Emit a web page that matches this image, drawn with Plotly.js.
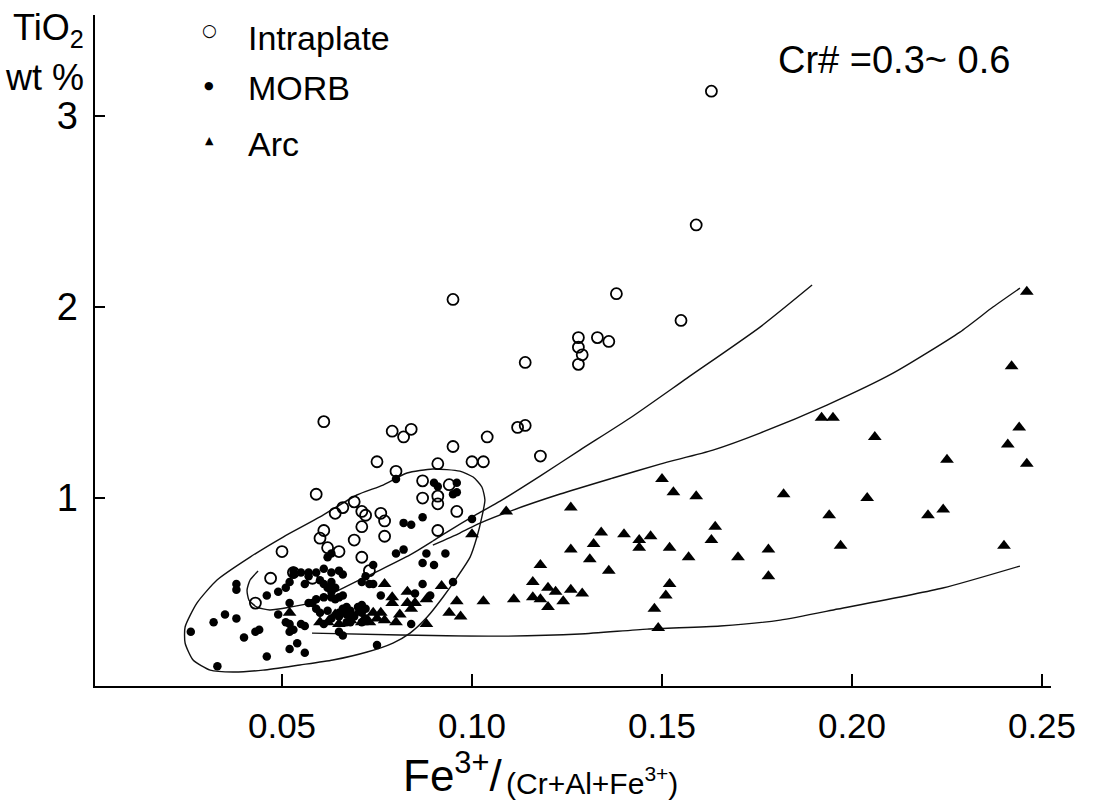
<!DOCTYPE html>
<html>
<head>
<meta charset="utf-8">
<script src="https://cdn.plot.ly/plotly-3.0.1.min.js"></script>
<style>
  html, body { margin: 0; padding: 0; background: #fff; }
  #chart { width: 1093px; height: 800px; }
</style>
</head>
<body>
<div id="chart"></div>
<script>
// Spinel TiO2 vs Fe3+/(Cr+Al+Fe3+), Cr# = 0.3-0.6

// Intraplate (open circles)
const intraX = [0.163, 0.159, 0.095, 0.138, 0.155, 0.128, 0.133, 0.136, 0.128, 0.129, 0.128, 0.114,
  0.112, 0.114, 0.118, 0.061, 0.079, 0.082, 0.084, 0.095, 0.104, 0.075, 0.091, 0.100, 0.103, 0.080,
  0.059, 0.087, 0.094, 0.066, 0.064, 0.069, 0.071, 0.072, 0.071, 0.061, 0.060, 0.062, 0.065, 0.069,
  0.050, 0.071, 0.076, 0.077, 0.087, 0.091, 0.091, 0.096, 0.091, 0.077, 0.073, 0.058, 0.047, 0.043, 0.053];
const intraY = [3.13, 2.43, 2.04, 2.07, 1.93, 1.84, 1.84, 1.82, 1.79, 1.75, 1.70, 1.71,
  1.37, 1.38, 1.22, 1.40, 1.35, 1.32, 1.36, 1.27, 1.32, 1.19, 1.18, 1.19, 1.19, 1.14,
  1.02, 1.09, 1.07, 0.95, 0.92, 0.98, 0.93, 0.91, 0.85, 0.83, 0.79, 0.74, 0.72, 0.78,
  0.72, 0.69, 0.92, 0.88, 1.00, 1.01, 0.97, 0.93, 0.83, 0.80, 0.62, 0.58, 0.58, 0.45, 0.61];

// MORB (filled dots)
const morbX = [0.026, 0.032, 0.035, 0.038, 0.033, 0.040, 0.043, 0.044, 0.046, 0.038, 0.038, 0.046,
  0.049, 0.051, 0.052, 0.049, 0.051, 0.052, 0.055, 0.056, 0.052, 0.053, 0.052, 0.054, 0.056, 0.052,
  0.053, 0.055, 0.057, 0.059, 0.061, 0.063, 0.065, 0.060, 0.061, 0.063, 0.062, 0.063, 0.056, 0.057,
  0.058, 0.059, 0.061, 0.063, 0.064, 0.059, 0.060, 0.062, 0.063, 0.065, 0.061, 0.066, 0.071, 0.072,
  0.074, 0.065, 0.066, 0.076, 0.087, 0.089, 0.085, 0.066, 0.067, 0.068, 0.070, 0.071, 0.072, 0.065,
  0.067, 0.069, 0.071, 0.072, 0.067, 0.068, 0.071, 0.065, 0.066, 0.075, 0.084, 0.080, 0.090, 0.091,
  0.096, 0.095, 0.096, 0.082, 0.084, 0.087, 0.100, 0.080, 0.082, 0.088, 0.093, 0.087, 0.090, 0.074,
  0.073, 0.057, 0.063, 0.064, 0.062, 0.063, 0.053, 0.095];
const morbY = [0.30, 0.35, 0.39, 0.37, 0.12, 0.27, 0.30, 0.31, 0.17, 0.55, 0.52, 0.49,
  0.51, 0.53, 0.45, 0.39, 0.35, 0.34, 0.34, 0.33, 0.30, 0.31, 0.21, 0.24, 0.19, 0.56,
  0.60, 0.61, 0.61, 0.61, 0.63, 0.61, 0.62, 0.57, 0.55, 0.56, 0.53, 0.51, 0.55, 0.45,
  0.45, 0.47, 0.48, 0.48, 0.47, 0.42, 0.40, 0.41, 0.37, 0.40, 0.34, 0.60, 0.56, 0.59,
  0.55, 0.48, 0.49, 0.49, 0.55, 0.49, 0.50, 0.42, 0.43, 0.41, 0.43, 0.44, 0.42, 0.38,
  0.39, 0.38, 0.40, 0.37, 0.35, 0.35, 0.35, 0.30, 0.28, 0.23, 0.34, 1.10, 1.08, 1.06,
  1.08, 1.02, 1.03, 0.87, 0.86, 0.90, 0.89, 0.71, 0.73, 0.71, 0.71, 0.66, 0.65, 0.65,
  0.55, 0.59, 0.53, 0.53, 0.69, 0.71, 0.62, 0.56];

// Arc (filled triangles)
const arcX = [0.246, 0.242, 0.192, 0.195, 0.244, 0.206, 0.241, 0.225, 0.246, 0.182, 0.204, 0.194,
  0.220, 0.224, 0.197, 0.240, 0.178, 0.178, 0.170, 0.109, 0.126, 0.150, 0.153, 0.159, 0.164, 0.163,
  0.134, 0.132, 0.140, 0.144, 0.144, 0.147, 0.126, 0.152, 0.131, 0.157, 0.136, 0.118, 0.116, 0.120,
  0.116, 0.118, 0.120, 0.122, 0.126, 0.124, 0.129, 0.111, 0.103, 0.152, 0.151, 0.148, 0.149, 0.100,
  0.092, 0.077, 0.083, 0.083, 0.079, 0.079, 0.085, 0.084, 0.088, 0.096, 0.094, 0.097, 0.076, 0.075,
  0.077, 0.081, 0.080, 0.088, 0.067, 0.073, 0.052, 0.060, 0.062, 0.064, 0.068, 0.070, 0.071, 0.065, 0.074];
const arcY = [2.08, 1.69, 1.42, 1.42, 1.37, 1.32, 1.28, 1.20, 1.18, 1.02, 1.00, 0.91,
  0.91, 0.94, 0.75, 0.75, 0.73, 0.59, 0.69, 0.93, 0.95, 1.10, 1.03, 1.01, 0.85, 0.78,
  0.82, 0.76, 0.81, 0.78, 0.74, 0.80, 0.73, 0.74, 0.68, 0.69, 0.62, 0.65, 0.56, 0.53,
  0.48, 0.47, 0.43, 0.51, 0.52, 0.46, 0.50, 0.47, 0.46, 0.55, 0.49, 0.42, 0.32, 0.81,
  0.54, 0.55, 0.51, 0.45, 0.48, 0.45, 0.45, 0.42, 0.47, 0.46, 0.40, 0.38, 0.40, 0.37,
  0.36, 0.39, 0.35, 0.34, 0.40, 0.35, 0.40, 0.35, 0.35, 0.39, 0.36, 0.40, 0.35, 0.34, 0.40];

// Field boundaries
const fieldX = [0.0829, 0.0897, 0.0968, 0.1003, 0.1026, 0.1034, 0.1026, 0.1013, 0.0995, 0.0961, 0.0924,
  0.0882, 0.0837, 0.0792, 0.0724, 0.0634, 0.0547, 0.0450, 0.0371, 0.0311, 0.0266, 0.0245, 0.0245,
  0.0276, 0.0329, 0.0416, 0.0503, 0.0600, 0.0697, 0.0766, 0.0829];
const fieldY = [1.131, 1.152, 1.141, 1.110, 1.058, 0.990, 0.901, 0.796, 0.691, 0.586, 0.482,
  0.377, 0.293, 0.241, 0.194, 0.152, 0.126, 0.099, 0.089, 0.099, 0.152, 0.241, 0.325,
  0.450, 0.571, 0.691, 0.796, 0.901, 1.016, 1.068, 1.131];

const upperX = [0.0437, 0.0416, 0.0408, 0.0413, 0.0434, 0.0468, 0.0521, 0.0582, 0.0639, 0.0692, 0.0758,
  0.0837, 0.0897, 0.0934, 0.1013, 0.1074, 0.1179, 0.1284, 0.1416, 0.1566, 0.1758, 0.1895];
const upperY = [0.618, 0.571, 0.518, 0.466, 0.429, 0.414, 0.429, 0.455, 0.508, 0.560, 0.623,
  0.702, 0.775, 0.822, 0.916, 0.984, 1.115, 1.251, 1.419, 1.628, 1.895, 2.115];

const middleX = [0.0897, 0.0968, 0.1021, 0.1108, 0.1232, 0.1371, 0.1495, 0.1634, 0.1758, 0.1934,
  0.2108, 0.2284, 0.2371, 0.2442];
const middleY = [0.754, 0.817, 0.869, 0.937, 1.021, 1.105, 1.178, 1.251, 1.340, 1.487,
  1.654, 1.869, 2.000, 2.099];

const lowerX = [0.0579, 0.0811, 0.1074, 0.1284, 0.1461, 0.1653, 0.1811, 0.1963, 0.2239, 0.2442];
const lowerY = [0.293, 0.283, 0.277, 0.288, 0.314, 0.330, 0.361, 0.419, 0.529, 0.644];

const xTickVals = [0.05, 0.10, 0.15, 0.20, 0.25];
const xTickText = ['0.05', '0.10', '0.15', '0.20', '0.25'];
const yTickVals = [1, 2, 3];
const yTickText = ['1', '2', '3'];

const FONT = '"Liberation Sans", Arial, sans-serif';
const W = 1093, H = 800;
const M = { l: 95, r: 42, t: 15, b: 114 };
// helpers placing page text in paper fractions
const pxX = p => (p - M.l) / (W - M.l - M.r);
const pxY = p => (H - M.b - p) / (H - M.t - M.b);

const lineStyle = { color: '#111', width: 1.4, shape: 'spline', smoothing: 0.6 };

const traces = [
  { x: fieldX, y: fieldY, mode: 'lines', line: lineStyle, hoverinfo: 'skip', showlegend: false },
  { x: upperX, y: upperY, mode: 'lines', line: lineStyle, hoverinfo: 'skip', showlegend: false },
  { x: middleX, y: middleY, mode: 'lines', line: lineStyle, hoverinfo: 'skip', showlegend: false },
  { x: lowerX, y: lowerY, mode: 'lines', line: lineStyle, hoverinfo: 'skip', showlegend: false },
  { x: arcX, y: arcY, name: 'Arc', mode: 'markers',
    marker: { symbol: 'triangle-up', size: 12, color: '#000' } },
  { x: morbX, y: morbY, name: 'MORB', mode: 'markers',
    marker: { symbol: 'circle', size: 8.5, color: '#000' } },
  { x: intraX, y: intraY, name: 'Intraplate', mode: 'markers',
    marker: { symbol: 'circle-open', size: 11, color: '#000', line: { width: 1.8, color: '#000' } } }
];

const ann = (text, x, y, size, xanchor, family) => ({
  text, xref: 'paper', yref: 'paper', x: pxX(x), y: pxY(y), xanchor, yanchor: 'middle',
  showarrow: false, font: { family: family || FONT, size, color: '#000' }
});

const layout = {
  width: W, height: H,
  margin: M,
  paper_bgcolor: '#fff', plot_bgcolor: '#fff',
  showlegend: false,
  xaxis: {
    range: [0.00079, 0.25237], showgrid: false, zeroline: false,
    showline: true, linecolor: '#000', linewidth: 1.6,
    ticks: 'inside', ticklen: 12, tickwidth: 1.5, tickcolor: '#000',
    tickvals: xTickVals, ticktext: xTickText, ticklabelstandoff: 8,
    tickfont: { family: FONT, size: 35, color: '#000' }
  },
  yaxis: {
    range: [0.016, 3.529], showgrid: false, zeroline: false,
    showline: true, linecolor: '#000', linewidth: 1.6,
    ticks: 'inside', ticklen: 10, tickwidth: 1.5, tickcolor: '#000',
    tickvals: yTickVals, ticktext: yTickText, ticklabelstandoff: 8,
    tickfont: { family: FONT, size: 38, color: '#000' }
  },
  annotations: [
    ann('TiO<sub>2</sub>', 86, 30, 36, 'right'),
    ann('wt %', 86, 77, 36, 'right'),
    ann('○', 209, 30, 17, 'center', 'DejaVu Sans'),
    ann('●', 209, 86, 11, 'center', 'DejaVu Sans'),
    ann('▲', 209, 140, 11, 'center', 'DejaVu Sans'),
    ann('Intraplate', 246, 38, 34, 'left'),
    ann('MORB', 246, 88, 34, 'left'),
    ann('Arc', 246, 144, 34, 'left'),
    ann('Cr# =0.3~ 0.6', 776, 60, 38, 'left'),
    ann('Fe<sup>3+</sup>/', 504, 772, 44, 'right'),
    ann('(Cr+Al+Fe<sup>3+</sup>)', 504, 781, 30, 'left')
  ]
};

Plotly.newPlot('chart', traces, layout, { staticPlot: true, displayModeBar: false });
</script>
</body>
</html>
